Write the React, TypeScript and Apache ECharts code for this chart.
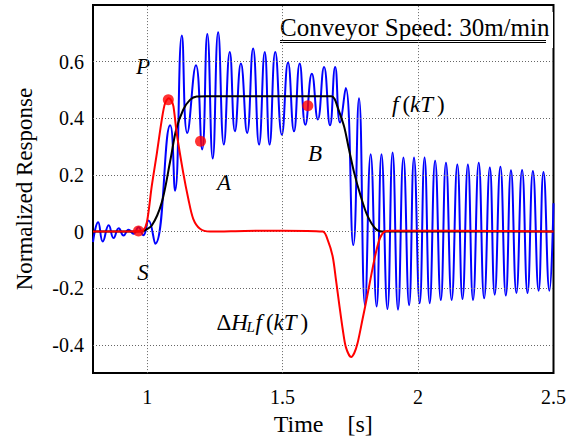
import React, { useEffect, useRef } from 'react';
import * as echarts from 'echarts';

const FONT = 'Liberation Serif';

// Tick labels
const xTicks = [1, 1.5, 2, 2.5];
const yTicks = [-0.4, -0.2, 0, 0.2, 0.4, 0.6];

// Measured (blue) response: time [s], value
const measured: [number, number][] = [
  [0.800, -0.037], [0.819, 0.033], [0.836, -0.035], [0.858, 0.022], [0.876, -0.023],
  [0.895, 0.012], [0.913, -0.014], [0.931, 0.006], [0.950, -0.008], [0.968, 0.015],
  [0.986, -0.013], [1.005, 0.039], [1.030, -0.043], [1.085, 0.375], [1.103, 0.144],
  [1.128, 0.692], [1.148, 0.348], [1.180, 0.587], [1.203, 0.290], [1.222, 0.698],
  [1.242, 0.258], [1.262, 0.704], [1.283, 0.307], [1.305, 0.634], [1.324, 0.354],
  [1.346, 0.593], [1.369, 0.348], [1.391, 0.646], [1.413, 0.307], [1.434, 0.634],
  [1.452, 0.307], [1.473, 0.634], [1.497, 0.342], [1.520, 0.597], [1.542, 0.354],
  [1.563, 0.593], [1.584, 0.377], [1.608, 0.557], [1.630, 0.396], [1.653, 0.581],
  [1.675, 0.375], [1.694, 0.581], [1.712, 0.385], [1.733, 0.507], [1.761, -0.048],
  [1.782, 0.471], [1.804, -0.260], [1.825, 0.273], [1.847, -0.265], [1.865, 0.273],
  [1.887, -0.274], [1.906, 0.279], [1.926, -0.276], [1.946, 0.261], [1.967, -0.260],
  [1.985, 0.261], [2.006, -0.253], [2.024, 0.261], [2.043, -0.253], [2.063, 0.250],
  [2.084, -0.242], [2.103, 0.243], [2.124, -0.242], [2.145, 0.237], [2.164, -0.238],
  [2.184, 0.237], [2.203, -0.242], [2.224, 0.243], [2.244, -0.236], [2.265, 0.226],
  [2.283, -0.223], [2.304, 0.229], [2.324, -0.226], [2.343, 0.216], [2.363, -0.217],
  [2.384, 0.217], [2.404, -0.217], [2.424, 0.214], [2.445, -0.209], [2.463, 0.210],
  [2.485, -0.209], [2.500, 0.100],
];

// f(kT) (black)
const filtered: [number, number][] = [
  [0.800, 0], [0.970, 0], [0.986, 0.002], [1.017, 0.021], [1.054, 0.103],
  [1.085, 0.249], [1.107, 0.360], [1.133, 0.430], [1.158, 0.465], [1.183, 0.477],
  [1.220, 0.478], [1.680, 0.478], [1.692, 0.468], [1.702, 0.442], [1.727, 0.371],
  [1.745, 0.290], [1.764, 0.208], [1.788, 0.126], [1.813, 0.056], [1.843, 0.010],
  [1.868, 0], [2.500, 0],
];

// ΔH_L f(kT) (red)
const deltaResponse: [number, number][] = [
  [0.800, 0], [0.968, 0.001], [0.985, 0.004], [0.999, 0.033], [1.017, 0.161],
  [1.036, 0.278], [1.054, 0.395], [1.066, 0.453], [1.080, 0.471], [1.090, 0.461],
  [1.097, 0.442], [1.109, 0.348], [1.133, 0.208], [1.152, 0.115], [1.170, 0.045],
  [1.195, 0.010], [1.232, 0.000], [1.360, 0.002], [1.500, 0.003], [1.648, 0.000],
  [1.667, -0.031], [1.685, -0.089], [1.697, -0.171], [1.710, -0.264], [1.722, -0.346],
  [1.734, -0.410], [1.753, -0.443], [1.765, -0.428], [1.777, -0.393], [1.795, -0.310],
  [1.812, -0.230], [1.830, -0.140], [1.846, -0.068], [1.860, -0.022], [1.876, 0.000],
  [1.900, 0.003], [2.100, 0.003], [2.500, 0],
];

// Red marker points S, P, A, B
const keyPoints: [number, number][] = [
  [0.968, 0.002], [1.078, 0.465], [1.197, 0.319], [1.593, 0.444],
];

function tickFormatter(ticks: number[]) {
  return (v: number) => {
    const hit = ticks.find((t) => Math.abs(t - v) < 1e-6);
    return hit === undefined ? '' : String(hit);
  };
}

const richBase = {
  n: { fontFamily: FONT, fontSize: 23, fontStyle: 'normal', color: '#000' },
  i: { fontFamily: FONT, fontSize: 23, fontStyle: 'italic', color: '#000' },
  f: { fontFamily: FONT, fontSize: 23, fontStyle: 'italic', color: '#000', padding: [0, 4, 0, 0] },
  t: { fontFamily: FONT, fontSize: 23, fontStyle: 'italic', color: '#000', padding: [0, 4, 0, 0] },
};

function rich(text: string, x: number, y: number) {
  return {
    type: 'text', x, y, z: 3,
    style: {
      text, rich: richBase, fill: '#000', fontFamily: FONT, fontSize: 23,
      align: 'left', textAlign: 'left', verticalAlign: 'middle', textVerticalAlign: 'middle',
    },
  };
}

function txt(text: string, x: number, y: number, size: number, italic: boolean, align = 'center') {
  return {
    type: 'text', x, y, z: 3,
    style: {
      text, fill: '#000', fontFamily: FONT, fontSize: size,
      fontStyle: italic ? 'italic' : 'normal',
      align, textAlign: align, verticalAlign: 'middle', textVerticalAlign: 'middle',
    },
  };
}

function whiteRect(x: number, y: number, width: number, height: number) {
  return { type: 'rect', z: 2, shape: { x, y, width, height }, style: { fill: '#fff' } };
}

export default function App() {
  const ref = useRef<HTMLDivElement>(null);
  useEffect(() => {
    document.body.style.margin = '0';
    const chart = echarts.init(ref.current!, null, { renderer: 'svg' });
    const gridLineData = [
      ...xTicks.filter((t) => t < 2.5).map((t) => ({ xAxis: t })),
      ...yTicks.map((t) => ({ yAxis: t })),
    ];
    chart.setOption({
      animation: false,
      textStyle: { fontFamily: FONT },
      grid: {
        left: 93, top: 5, width: 460.5, height: 371.5,
        show: true, borderColor: '#000', borderWidth: 2, backgroundColor: 'transparent',
      },
      xAxis: {
        type: 'value', min: 0.8, max: 2.5, interval: 0.1,
        axisLine: { show: false }, axisTick: { show: false }, splitLine: { show: false },
        axisLabel: { formatter: tickFormatter(xTicks), fontFamily: FONT, fontSize: 20, color: '#000', margin: 14 },
        name: 'Time    [s]', nameLocation: 'middle', nameGap: 34,
        nameTextStyle: { fontFamily: FONT, fontSize: 24, color: '#000' },
      },
      yAxis: {
        type: 'value', min: -0.5, max: 0.8, interval: 0.1,
        axisLine: { show: false }, axisTick: { show: false }, splitLine: { show: false },
        axisLabel: { formatter: tickFormatter(yTicks), fontFamily: FONT, fontSize: 20, color: '#000', margin: 9 },
        name: 'Normalized Response', nameLocation: 'middle', nameGap: 57,
        nameTextStyle: { fontFamily: FONT, fontSize: 23, color: '#000' },
      },
      graphic: {
        elements: [
          whiteRect(272, 12, 281, 36),
          whiteRect(123, 45, 40, 40),
          whiteRect(128, 256, 30, 32),
          whiteRect(205, 164, 38, 36),
          whiteRect(301, 139, 28, 30),
          whiteRect(386, 88, 64, 33),
          whiteRect(210, 300, 102, 43),
          {
            type: 'text', x: 280, y: 27, z: 3,
            style: {
              text: 'Conveyor Speed: 30m/min', fill: '#000', fontFamily: FONT, fontSize: 25,
              align: 'left', textAlign: 'left', verticalAlign: 'middle', textVerticalAlign: 'middle',
            },
          },
          { type: 'line', z: 3, shape: { x1: 280, y1: 40.5, x2: 546, y2: 40.5 }, style: { stroke: '#000', lineWidth: 1 } },
          { type: 'line', z: 3, shape: { x1: 280, y1: 42.5, x2: 546, y2: 42.5 }, style: { stroke: '#000', lineWidth: 1 } },
          txt('P', 143, 66, 23, true),
          txt('S', 143, 272, 23, true),
          txt('A', 224, 182, 23, true),
          txt('B', 315, 153, 23, true),
          rich('{f|f}{n|(}{i|k}{t|T}{n|)}', 392, 104),
          rich('{n|Δ}{i|H}', 216.5, 322.5),
          txt('L', 246.5, 327, 15, true, 'left'),
          rich('{f|f}{n|(}{i|k}{t|T}{n|)}', 255.5, 322.5),
        ],
      },
      series: [
        {
          type: 'line', z: 1, data: [[0.8, 0]], symbol: 'none', silent: true,
          lineStyle: { opacity: 0 },
          markLine: {
            silent: true, symbol: ['none', 'none'], label: { show: false },
            lineStyle: { color: '#666', width: 1, type: [1, 2] },
            emphasis: { disabled: true },
            data: gridLineData,
          },
        },
        {
          type: 'line', z: 4, data: measured, symbol: 'none', smooth: 0.5,
          lineStyle: { color: '#0000ff', width: 2 },
        },
        {
          type: 'line', z: 5, data: filtered, symbol: 'none', smooth: 0.3,
          lineStyle: { color: '#000', width: 2 },
        },
        {
          type: 'line', z: 6, data: deltaResponse, symbol: 'none', smooth: 0.3,
          lineStyle: { color: '#ff0000', width: 2 },
        },
        {
          type: 'scatter', z: 7, data: keyPoints, symbol: 'circle', symbolSize: 11,
          itemStyle: { color: '#ff0000' },
        },
      ],
    });
    return () => chart.dispose();
  }, []);
  return <div ref={ref} style={{ width: 588, height: 441 }} />;
}
